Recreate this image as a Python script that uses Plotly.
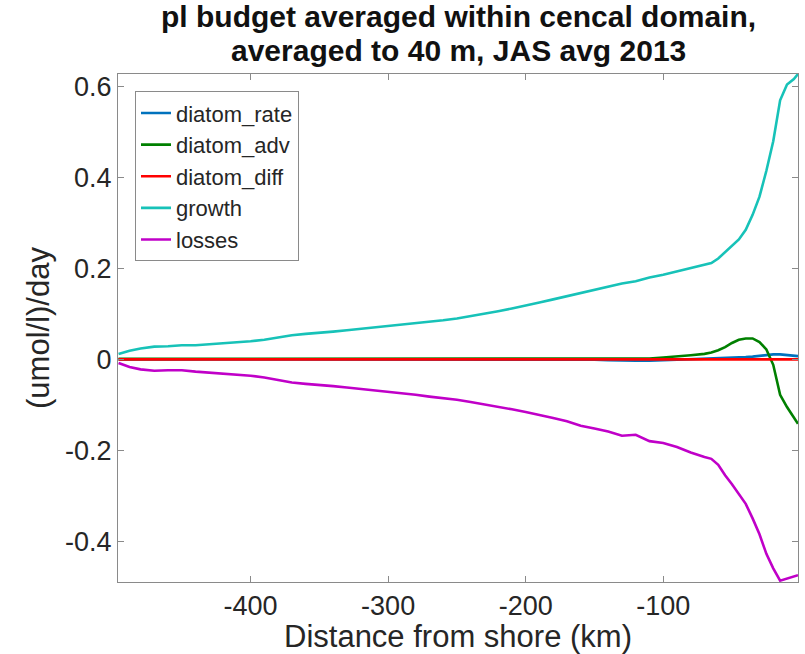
import plotly.graph_objects as go

# Distance from shore (km)
dist = [-496, -488, -480, -470, -460, -450, -440, -430, -420, -410, -400,
        -390, -380, -370, -360, -350, -340, -330, -320, -310, -300,
        -290, -280, -270, -260, -250, -240, -230, -220, -210, -200,
        -190, -180, -170, -160, -150, -140, -130, -120, -110, -100,
        -90, -80, -70, -65, -60, -55, -50, -45, -40, -35, -30, -25,
        -20, -15, -10, -5, -2]

diatom_rate = [0.000, 0.000, 0.000, 0.000, 0.000, 0.000, 0.000, 0.000, 0.000, 0.000, 0.000,
               0.000, 0.000, 0.000, 0.000, 0.000, 0.000, 0.000, 0.000, 0.000, 0.000,
               0.000, 0.000, 0.000, 0.000, 0.000, 0.000, 0.000, 0.000, 0.000, 0.000,
               0.000, 0.000, 0.000, -0.001, -0.001, -0.002, -0.003, -0.003, -0.003, -0.002,
               -0.001, 0.000, 0.001, 0.001, 0.002, 0.002, 0.003, 0.004, 0.005, 0.006, 0.008, 0.010,
               0.011, 0.011, 0.010, 0.008, 0.007]

diatom_adv = [0.001, 0.001, 0.001, 0.001, 0.001, 0.001, 0.001, 0.001, 0.001, 0.001, 0.001,
              0.001, 0.001, 0.001, 0.001, 0.001, 0.001, 0.001, 0.001, 0.001, 0.001,
              0.001, 0.001, 0.001, 0.001, 0.001, 0.002, 0.002, 0.002, 0.002, 0.002,
              0.002, 0.002, 0.002, 0.002, 0.002, 0.002, 0.001, 0.001, 0.002, 0.004,
              0.006, 0.009, 0.012, 0.015, 0.020, 0.027, 0.036, 0.043, 0.046, 0.046, 0.038, 0.022,
              -0.012, -0.078, -0.105, -0.128, -0.142]

diatom_diff = [0.000, 0.000, 0.000, 0.000, 0.000, 0.000, 0.000, 0.000, 0.000, 0.000, 0.000,
               0.000, 0.000, 0.000, 0.000, 0.000, 0.000, 0.000, 0.000, 0.000, 0.000,
               0.000, 0.000, 0.000, 0.000, 0.000, 0.000, 0.000, 0.000, 0.000, 0.000,
               0.000, 0.000, 0.000, 0.000, 0.000, 0.000, 0.000, 0.000, 0.000, 0.000,
               0.000, 0.000, 0.000, 0.000, 0.000, 0.000, 0.000, 0.000, 0.000, 0.000, 0.000, 0.000,
               0.000, 0.000, 0.000, 0.000, 0.000]

growth = [0.012, 0.019, 0.024, 0.028, 0.029, 0.031, 0.031, 0.033, 0.035, 0.037, 0.040,
          0.043, 0.048, 0.053, 0.056, 0.058, 0.061, 0.064, 0.067, 0.070, 0.073,
          0.076, 0.079, 0.083, 0.086, 0.090, 0.095, 0.100, 0.106, 0.112, 0.118,
          0.125, 0.132, 0.139, 0.146, 0.153, 0.160, 0.167, 0.172, 0.180, 0.186,
          0.193, 0.200, 0.207, 0.212, 0.222, 0.236, 0.250, 0.264, 0.285, 0.318, 0.358, 0.415,
          0.480, 0.570, 0.605, 0.617, 0.628]

losses = [-0.008, -0.017, -0.022, -0.025, -0.024, -0.024, -0.027, -0.029, -0.031, -0.033, -0.036,
          -0.040, -0.045, -0.051, -0.054, -0.056, -0.059, -0.062, -0.065, -0.069, -0.072,
          -0.075, -0.078, -0.082, -0.085, -0.089, -0.094, -0.099, -0.105, -0.110, -0.116,
          -0.122, -0.129, -0.136, -0.146, -0.152, -0.159, -0.168, -0.166, -0.180, -0.184,
          -0.193, -0.205, -0.215, -0.219, -0.232, -0.255, -0.275, -0.296, -0.318, -0.350, -0.385, -0.428,
          -0.460, -0.487, -0.482, -0.478, -0.475]

series_names = ["diatom_rate", "diatom_adv", "diatom_diff", "growth", "losses"]
series_values = [diatom_rate, diatom_adv, diatom_diff, growth, losses]
series_colors = ["#0072BD", "#008000", "#FF0000", "#17C2B8", "#C000C8"]

x_ticks = [-400, -300, -200, -100]
x_ticktext = ["-400", "-300", "-200", "-100"]
y_ticks = [-0.4, -0.2, 0, 0.2, 0.4, 0.6]
y_ticktext = ["-0.4", "-0.2", "0", "0.2", "0.4", "0.6"]

title_lines = ["pl budget averaged within cencal domain,", "averaged to 40 m, JAS avg 2013"]
x_label = "Distance from shore (km)"
y_label = "(umol/l)/day"

FONT = "Liberation Sans, Arial, sans-serif"
TXT = "#262626"

fig = go.Figure()
for name, vals, col in zip(series_names, series_values, series_colors):
    fig.add_trace(go.Scatter(x=dist, y=vals, mode="lines", name=name,
                             line=dict(color=col, width=2.6)))

fig.update_layout(
    width=805, height=654,
    margin=dict(l=118, r=7, t=74, b=72),
    paper_bgcolor="white", plot_bgcolor="white",
    font=dict(family=FONT, color=TXT),
    showlegend=True,
    legend=dict(x=0.025, y=0.966, xanchor="left", yanchor="top",
                bgcolor="white", bordercolor="#8a8a8a", borderwidth=1,
                font=dict(family=FONT, size=22, color=TXT),
                tracegroupgap=0),
)

# title (two lines) and axis labels
fig.add_annotation(text="<b>%s</b>" % title_lines[0], xref="paper", yref="paper",
                   x=0.5, y=1, xanchor="center", yanchor="middle", yshift=58,
                   height=34, valign="middle",
                   showarrow=False, font=dict(family=FONT, size=30, color="#111111"))
fig.add_annotation(text="<b>%s</b>" % title_lines[1], xref="paper", yref="paper",
                   x=0.5, y=1, xanchor="center", yanchor="middle", yshift=24,
                   height=34, valign="middle",
                   showarrow=False, font=dict(family=FONT, size=30, color="#111111"))
fig.add_annotation(text=x_label, xref="paper", yref="paper",
                   x=0.5, y=0, xanchor="center", yanchor="middle", yshift=-54,
                   showarrow=False, font=dict(family=FONT, size=31, color=TXT))
fig.add_annotation(text=y_label, xref="paper", yref="paper", textangle=-90,
                   x=0, y=0.5, xanchor="center", yanchor="middle", xshift=-80,
                   showarrow=False, font=dict(family=FONT, size=31, color=TXT))

fig.update_xaxes(range=[-496.4, -2], tickvals=x_ticks, ticktext=x_ticktext,
                 showgrid=False, zeroline=False,
                 showline=True, linecolor="#8a8a8a", linewidth=1, mirror="ticks",
                 ticks="inside", ticklen=6, tickcolor="#8a8a8a",
                 tickfont=dict(size=27, color=TXT))
fig.update_yaxes(range=[-0.49, 0.628], tickvals=y_ticks, ticktext=y_ticktext,
                 showgrid=False, zeroline=False,
                 showline=True, linecolor="#8a8a8a", linewidth=1, mirror="ticks",
                 ticks="inside", ticklen=6, tickcolor="#8a8a8a",
                 tickfont=dict(size=27, color=TXT))

fig.write_html("out.html")
